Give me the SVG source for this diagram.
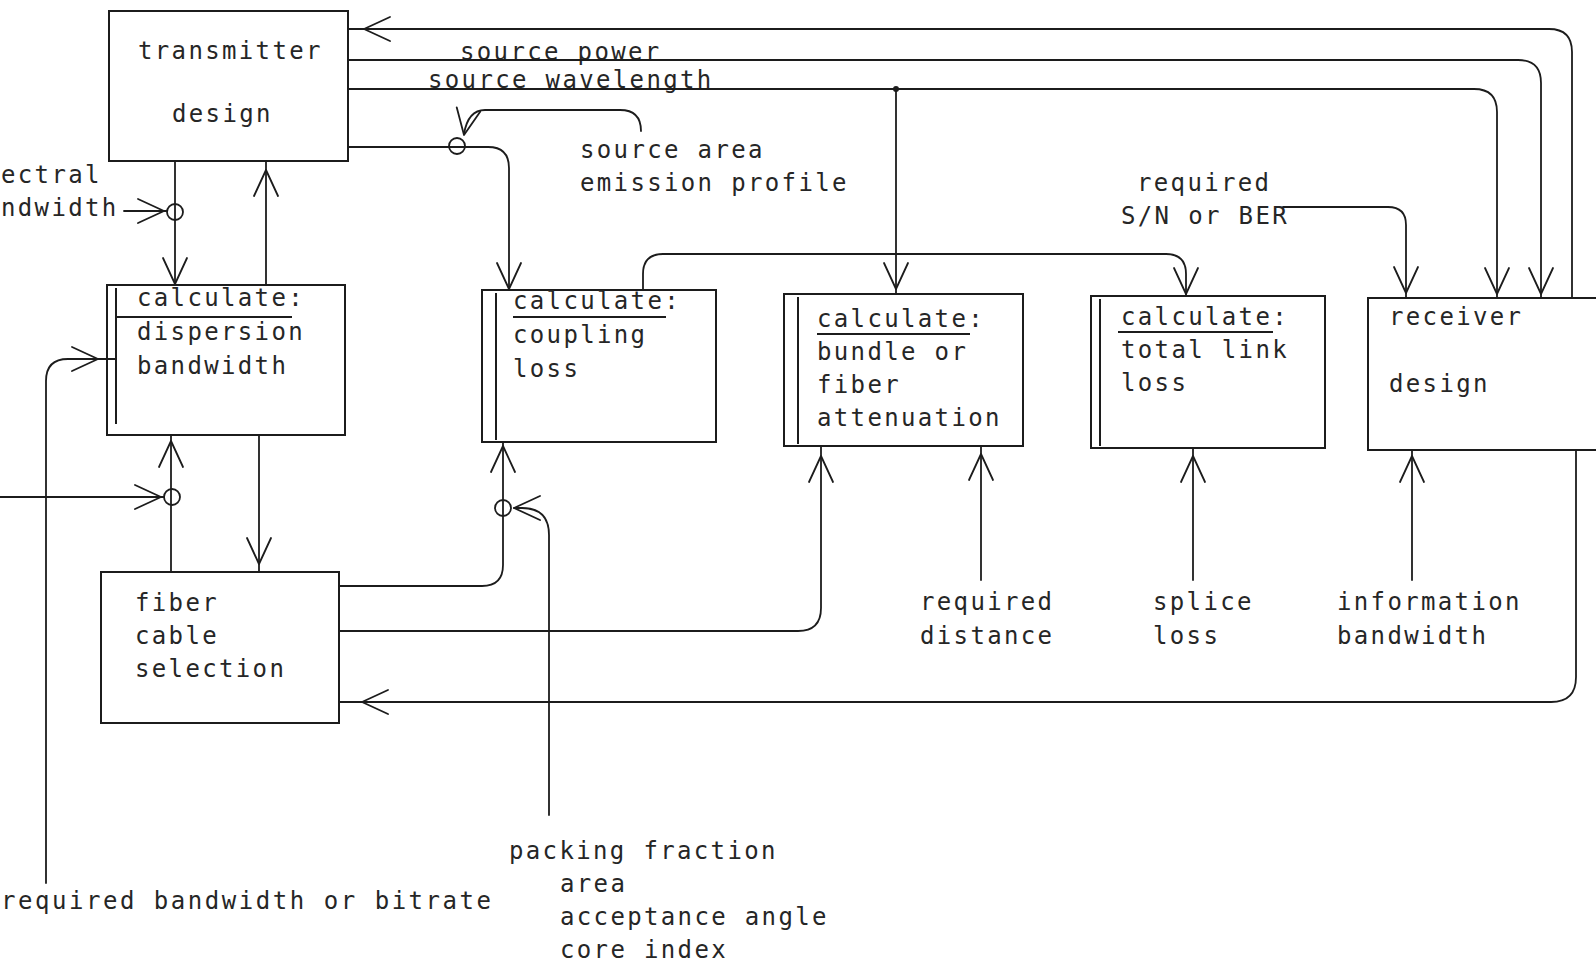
<svg xmlns="http://www.w3.org/2000/svg" width="1596" height="964" viewBox="0 0 1596 964">
<style>
.box{fill:none;stroke:#1c1c1c;stroke-width:2}
.ln{fill:none;stroke:#1c1c1c;stroke-width:1.8;stroke-linecap:round;stroke-linejoin:round}
.jc{fill:none;stroke:#1c1c1c;stroke-width:1.8}
.dot{fill:#1c1c1c}
.t{font-family:"DejaVu Sans Mono","Liberation Mono",monospace;font-size:24px;letter-spacing:2.35px;fill:#262626}
.tw{font-family:"DejaVu Sans Mono","Liberation Mono",monospace;font-size:24px;fill:#262626}
</style>
<defs>
<path id="ah" d="M-26,-12 L0,0 L-26,12" fill="none" stroke="#1c1c1c" stroke-width="1.8" stroke-linecap="round" stroke-linejoin="round"/>
</defs>
<rect width="1596" height="964" fill="#fff"/>

<g id="transmitter">
<rect class="box" x="109" y="11" width="239" height="150"/>
<text class="t" x="138" y="59">transmitter</text>
<text class="t" x="172" y="122">design</text>
</g>

<g id="calc-dispersion">
<rect class="box" x="107" y="285" width="238" height="150"/>
<line class="box" x1="116" y1="288" x2="116" y2="424"/>
<line class="box" x1="116" y1="317" x2="292" y2="317"/>
<text class="t" x="137" y="306">calculate:</text>
<text class="t" x="137" y="340">dispersion</text>
<text class="t" x="137" y="374">bandwidth</text>
</g>

<g id="calc-coupling">
<rect class="box" x="482" y="290" width="234" height="152"/>
<line class="box" x1="496" y1="293" x2="496" y2="440"/>
<line class="box" x1="513" y1="317" x2="666" y2="317"/>
<text class="t" x="513" y="309">calculate:</text>
<text class="t" x="513" y="343">coupling</text>
<text class="t" x="513" y="377">loss</text>
</g>

<g id="calc-attenuation">
<rect class="box" x="784" y="294" width="239" height="152"/>
<line class="box" x1="798" y1="297" x2="798" y2="444"/>
<line class="box" x1="817" y1="334" x2="970" y2="334"/>
<text class="t" x="817" y="327">calculate:</text>
<text class="t" x="817" y="360">bundle or</text>
<text class="t" x="817" y="393">fiber</text>
<text class="t" x="817" y="426">attenuation</text>
</g>

<g id="calc-total-link-loss">
<rect class="box" x="1091" y="296" width="234" height="152"/>
<line class="box" x1="1100" y1="299" x2="1100" y2="446"/>
<line class="box" x1="1118" y1="332" x2="1273" y2="332"/>
<text class="t" x="1121" y="325">calculate:</text>
<text class="t" x="1121" y="358">total link</text>
<text class="t" x="1121" y="391">loss</text>
</g>

<g id="receiver">
<path class="box" d="M1598,298 L1368,298 L1368,450 L1598,450"/>
<text class="t" x="1389" y="325">receiver</text>
<text class="t" x="1389" y="392">design</text>
</g>

<g id="fiber-selection">
<rect class="box" x="101" y="572" width="238" height="151"/>
<text class="t" x="135" y="611">fiber</text>
<text class="t" x="135" y="644">cable</text>
<text class="t" x="135" y="677">selection</text>
</g>

<g id="label-source-power"><text class="t" x="460" y="60">source power</text></g>
<g id="label-source-wavelength"><text class="t" x="428" y="88">source wavelength</text></g>
<g id="label-source-area"><text class="t" x="580" y="158">source area</text><text class="t" x="580" y="191">emission profile</text></g>
<g id="label-sn"><text class="t" x="1137" y="191">required</text><text class="t" x="1121" y="224">S/N or BER</text></g>
<g id="label-spectral"><text class="t" x="1" y="183">ectral</text><text class="t" x="1" y="216">ndwidth</text></g>
<g id="label-required-bandwidth"><text class="tw" x="1" y="909" textLength="490" lengthAdjust="spacing">required bandwidth or bitrate</text></g>
<g id="label-packing"><text class="t" x="509" y="859">packing fraction</text><text class="t" x="560" y="892">area</text><text class="t" x="560" y="925">acceptance angle</text><text class="t" x="560" y="958">core index</text></g>
<g id="label-distance"><text class="t" x="920" y="610">required</text><text class="t" x="920" y="644">distance</text></g>
<g id="label-splice"><text class="t" x="1153" y="610">splice</text><text class="t" x="1153" y="644">loss</text></g>
<g id="label-information"><text class="t" x="1337" y="610">information</text><text class="t" x="1337" y="644">bandwidth</text></g>

<g id="connectors">
<path class="ln" d="M1572,297 L1572,52 Q1572,29 1549,29 L348,29"/>
<use href="#ah" transform="translate(364,29) rotate(180)"/>
<path class="ln" d="M348,60 L1518,60 Q1541,60 1541,83 L1541,297"/>
<use href="#ah" transform="translate(1541,294) rotate(90)"/>
<path class="ln" d="M348,89 L1474,89 Q1497,89 1497,112 L1497,297"/>
<use href="#ah" transform="translate(1497,294) rotate(90)"/>
<path class="ln" d="M896,89 L896,294"/>
<circle class="dot" cx="896" cy="89" r="3"/>
<use href="#ah" transform="translate(896,289) rotate(90)"/>
<path class="ln" d="M348,147 L488,147 Q509,147 509,168 L509,290"/>
<ellipse class="jc" cx="457" cy="146" rx="8" ry="8"/>
<use href="#ah" transform="translate(509,289) rotate(90)"/>
<path class="ln" d="M641,131 Q641,110 620,110 L485,110 Q468,110 464,134"/>
<use href="#ah" transform="translate(464,135) rotate(100)"/>
<path class="ln" d="M175,161 L175,285"/>
<ellipse class="jc" cx="175" cy="212" rx="8" ry="8"/>
<use href="#ah" transform="translate(175,284) rotate(90)"/>
<path class="ln" d="M124,211 L167,211"/>
<use href="#ah" transform="translate(164,211)"/>
<path class="ln" d="M266,285 L266,161"/>
<use href="#ah" transform="translate(266,170) rotate(-90)"/>
<path class="ln" d="M171,572 L171,435"/>
<ellipse class="jc" cx="172" cy="497" rx="8" ry="8"/>
<use href="#ah" transform="translate(171,441) rotate(-90)"/>
<path class="ln" d="M0,497 L164,497"/>
<use href="#ah" transform="translate(161,497)"/>
<path class="ln" d="M259,435 L259,572"/>
<use href="#ah" transform="translate(259,564) rotate(90)"/>
<path class="ln" d="M46,883 L46,381 Q46,359 68,359 L116,359"/>
<use href="#ah" transform="translate(98,359)"/>
<path class="ln" d="M643,290 L643,274 Q643,254 663,254 L1166,254 Q1186,254 1186,274 L1186,296"/>
<use href="#ah" transform="translate(1186,294) rotate(90)"/>
<path class="ln" d="M1283,207 L1388,207 Q1406,207 1406,225 L1406,298"/>
<use href="#ah" transform="translate(1406,293) rotate(90)"/>
<path class="ln" d="M339,586 L482,586 Q503,586 503,565 L503,442"/>
<ellipse class="jc" cx="503" cy="508" rx="8" ry="8"/>
<use href="#ah" transform="translate(503,446) rotate(-90)"/>
<path class="ln" d="M549,815 L549,535 Q549,508 522,508 L514,508"/>
<use href="#ah" transform="translate(514,508) rotate(180)"/>
<path class="ln" d="M339,631 L798,631 Q821,631 821,608 L821,446"/>
<use href="#ah" transform="translate(821,456) rotate(-90)"/>
<path class="ln" d="M981,580 L981,446"/>
<use href="#ah" transform="translate(981,454) rotate(-90)"/>
<path class="ln" d="M1193,580 L1193,448"/>
<use href="#ah" transform="translate(1193,456) rotate(-90)"/>
<path class="ln" d="M1412,580 L1412,450"/>
<use href="#ah" transform="translate(1412,456) rotate(-90)"/>
<path class="ln" d="M1576,450 L1576,677 Q1576,702 1551,702 L339,702"/>
<use href="#ah" transform="translate(362,702) rotate(180)"/>
</g>
</svg>
